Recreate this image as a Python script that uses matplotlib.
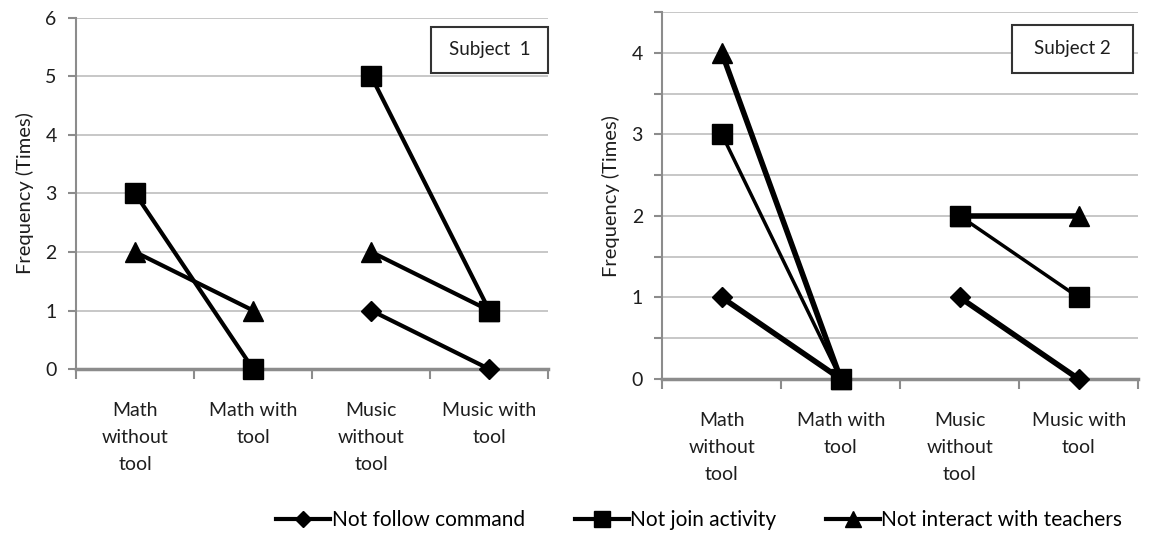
import numpy as np
import matplotlib
matplotlib.use("Agg")
import matplotlib.pyplot as plt
from matplotlib.patches import Rectangle

plt.rcParams['font.family'] = ['Lato', 'DejaVu Sans']

categories = ["Math\nwithout\ntool", "Math with\ntool", "Music\nwithout\ntool", "Music with\ntool"]
series_names = ["Not follow command", "Not join activity", "Not interact with teachers"]

# subject 1 (nan = not shown)
s1_follow = [np.nan, np.nan, 1, 0]
s1_join = [3, 0, 5, 1]
s1_interact = [2, 1, 2, 1]

# subject 2
s2_follow = [1, 0, 1, 0]
s2_join = [3, 0, 2, 1]
s2_interact = [4, 0, 2, 2]

markers = ["D", "s", "^"]
msizes = [10, 14, 14]
zorders = [4, 5, 3]

grid_c = "#bdbdbd"
axis_c = "#8c8c8c"
text_c = "#1e1e1e"


def draw(ax, data, ymax, ystep, label, box, lws):
    x = np.arange(len(categories))
    for vals, m, ms, z, lw in zip(data, markers, msizes, zorders, lws):
        vals = np.array(vals, dtype=float)
        ax.plot(x[:2], vals[:2], "-", color="black", lw=lw, marker=m, ms=ms, zorder=z, clip_on=False)
        ax.plot(x[2:], vals[2:], "-", color="black", lw=lw, marker=m, ms=ms, zorder=z, clip_on=False)
    ax.set_xlim(-0.5, len(categories) - 0.5)
    ax.set_ylim(0, ymax)
    yt = np.arange(0, ymax + 0.01, ystep)
    ax.set_yticks(yt)
    ax.set_yticklabels([str(int(v)) if abs(v - round(v)) < 1e-6 else "" for v in yt])
    ax.grid(axis="y", color=grid_c, lw=1.2)
    ax.set_axisbelow(True)
    ax.set_xticks(np.arange(-0.5, len(categories)), labels=[])
    ax.set_xticks(x, labels=categories, minor=True)
    for t in ax.get_xticklabels(minor=True):
        t.set_linespacing(1.7)
    ax.tick_params(axis="x", which="major", length=7, width=1.5, color=axis_c, direction="out")
    ax.tick_params(axis="x", which="minor", length=0, pad=24, labelsize=14, colors=text_c)
    ax.tick_params(axis="y", length=6, width=1.5, color=axis_c, labelsize=14, labelcolor=text_c, pad=8)
    for s in ["top", "right"]:
        ax.spines[s].set_visible(False)
    ax.spines["left"].set_color(axis_c)
    ax.spines["left"].set_linewidth(1.5)
    ax.spines["bottom"].set_color(axis_c)
    ax.spines["bottom"].set_linewidth(2.5)
    ax.set_ylabel("Frequency (Times)", fontsize=14.5, color=text_c, labelpad=8)
    x0, y0, x1, y1 = box
    ax.add_patch(Rectangle((x0, y0), x1 - x0, y1 - y0, transform=ax.transAxes, fc="white",
                           ec="#333333", lw=1.5, zorder=9, clip_on=False))
    ax.text((x0 + x1) / 2, (y0 + y1) / 2, label, transform=ax.transAxes, ha="center", va="center",
            fontsize=13.5, color=text_c, zorder=10)


fig = plt.figure(figsize=(11.52, 5.38), dpi=100)
ax1 = fig.add_axes([0.066, 0.314, 0.410, 0.653])
ax2 = fig.add_axes([0.575, 0.2955, 0.413, 0.682])

draw(ax1, [s1_follow, s1_join, s1_interact], 6, 1, "Subject  1", (0.752, 0.843, 1.0, 0.974), [3, 3, 3])
draw(ax2, [s2_follow, s2_join, s2_interact], 4.5, 0.5, "Subject 2", (0.735, 0.834, 0.989, 0.965), [4, 2.5, 4])

handles = [plt.Line2D([], [], color="black", lw=3, marker=m, ms=ms * 0.85) for m, ms in zip(markers, msizes)]
fig.legend(handles, series_names, loc="lower center", bbox_to_anchor=(0.607, -0.02), ncol=3,
           frameon=False, fontsize=15, handlelength=2.6, handletextpad=0.05, columnspacing=2.4)

fig.savefig("out.png", dpi=100)
